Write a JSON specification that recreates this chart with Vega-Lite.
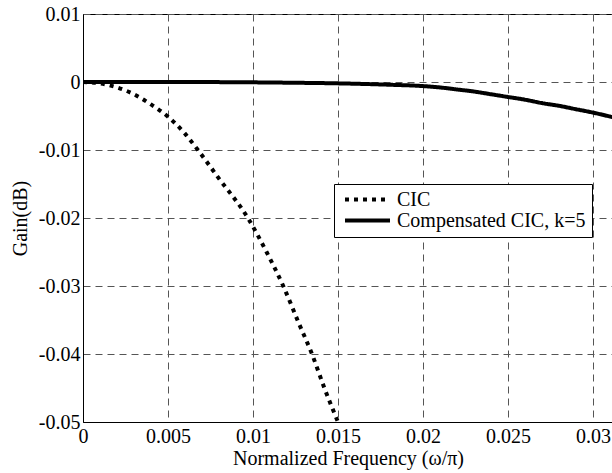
{
  "$schema": "https://vega.github.io/schema/vega-lite/v6.json",
  "width": 530,
  "height": 408,
  "autosize": {"type": "none"},
  "padding": {"left": 83, "top": 14, "right": 0, "bottom": 51},
  "background": "white",
  "config": {
    "font": "'Liberation Serif', 'DejaVu Serif', serif",
    "view": {"stroke": "black", "strokeWidth": 1},
    "axis": {
      "labelFont": "'Liberation Serif', 'DejaVu Serif', serif",
      "titleFont": "'Liberation Serif', 'DejaVu Serif', serif",
      "labelFontSize": 20,
      "titleFontSize": 20,
      "titleFontWeight": "normal",
      "labelColor": "black",
      "titleColor": "black",
      "domainColor": "black",
      "domainWidth": 1,
      "grid": true,
      "gridColor": "#555555",
      "gridDash": [7, 5],
      "gridWidth": 1,
      "ticks": false,
      "labelFlush": false,
      "labelOverlap": false
    },
    "legend": {
      "labelFont": "'Liberation Serif', 'DejaVu Serif', serif"
    }
  },
  "data": {
    "values": [
      {"series": "CIC", "f": 0, "g": 0},
      {"series": "CIC", "f": 0.001, "g": -0.0002},
      {"series": "CIC", "f": 0.002, "g": -0.0008},
      {"series": "CIC", "f": 0.003, "g": -0.0018},
      {"series": "CIC", "f": 0.004, "g": -0.0033},
      {"series": "CIC", "f": 0.005, "g": -0.0051},
      {"series": "CIC", "f": 0.006, "g": -0.0076},
      {"series": "CIC", "f": 0.00676, "g": -0.01},
      {"series": "CIC", "f": 0.008, "g": -0.0142},
      {"series": "CIC", "f": 0.0097, "g": -0.02},
      {"series": "CIC", "f": 0.0108, "g": -0.025},
      {"series": "CIC", "f": 0.01178, "g": -0.03},
      {"series": "CIC", "f": 0.0127, "g": -0.0355},
      {"series": "CIC", "f": 0.01347, "g": -0.04},
      {"series": "CIC", "f": 0.0142, "g": -0.045},
      {"series": "CIC", "f": 0.015, "g": -0.05},
      {"series": "Compensated CIC, k=5", "f": 0, "g": 0},
      {"series": "Compensated CIC, k=5", "f": 0.005, "g": 0},
      {"series": "Compensated CIC, k=5", "f": 0.01, "g": -0.00005},
      {"series": "Compensated CIC, k=5", "f": 0.012, "g": -0.0001},
      {"series": "Compensated CIC, k=5", "f": 0.015, "g": -0.0002},
      {"series": "Compensated CIC, k=5", "f": 0.018, "g": -0.0004},
      {"series": "Compensated CIC, k=5", "f": 0.02, "g": -0.0006},
      {"series": "Compensated CIC, k=5", "f": 0.021, "g": -0.0008},
      {"series": "Compensated CIC, k=5", "f": 0.022, "g": -0.0011},
      {"series": "Compensated CIC, k=5", "f": 0.023, "g": -0.0014},
      {"series": "Compensated CIC, k=5", "f": 0.024, "g": -0.0018},
      {"series": "Compensated CIC, k=5", "f": 0.025, "g": -0.0022},
      {"series": "Compensated CIC, k=5", "f": 0.026, "g": -0.0026},
      {"series": "Compensated CIC, k=5", "f": 0.027, "g": -0.0031},
      {"series": "Compensated CIC, k=5", "f": 0.028, "g": -0.0035},
      {"series": "Compensated CIC, k=5", "f": 0.029, "g": -0.004},
      {"series": "Compensated CIC, k=5", "f": 0.03, "g": -0.0045},
      {"series": "Compensated CIC, k=5", "f": 0.0312, "g": -0.0052}
    ]
  },
  "mark": {"type": "line", "color": "black", "strokeWidth": 4, "clip": true, "interpolate": "monotone", "strokeCap": "butt"},
  "encoding": {
    "x": {
      "field": "f",
      "type": "quantitative",
      "scale": {"domain": [0, 0.03118], "nice": false, "zero": false},
      "axis": {
        "values": [0, 0.005, 0.01, 0.015, 0.02, 0.025, 0.03],
        "labelExpr": "replace(format(datum.value, '~g'), '\u2212', '-')",
        "title": "Normalized Frequency (ω/π)",
        "labelPadding": 4,
        "titlePadding": 2
      }
    },
    "y": {
      "field": "g",
      "type": "quantitative",
      "scale": {"domain": [-0.05, 0.01], "nice": false},
      "axis": {
        "values": [-0.05, -0.04, -0.03, -0.02, -0.01, 0, 0.01],
        "labelExpr": "replace(format(datum.value, '~g'), '\u2212', '-')",
        "title": "Gain(dB)",
        "labelPadding": 3,
        "titlePadding": 8
      }
    },
    "strokeDash": {
      "field": "series",
      "type": "nominal",
      "scale": {"domain": ["CIC", "Compensated CIC, k=5"], "range": [[4, 5], [1, 0]]},
      "legend": {
        "title": null,
        "orient": "none",
        "legendX": 251,
        "legendY": 170,
        "strokeColor": "black",
        "fillColor": "white",
        "padding": 6,
        "symbolType": "stroke",
        "symbolSize": 2025,
        "symbolStrokeWidth": 4,
        "symbolStrokeColor": "black",
        "symbolOffset": 3,
        "clipHeight": 19,
        "labelFont": "'Liberation Serif', 'DejaVu Serif', serif",
        "labelFontSize": 20,
        "labelColor": "black",
        "labelOffset": 5,
        "labelLimit": 400,
        "rowPadding": 0
      }
    }
  }
}
